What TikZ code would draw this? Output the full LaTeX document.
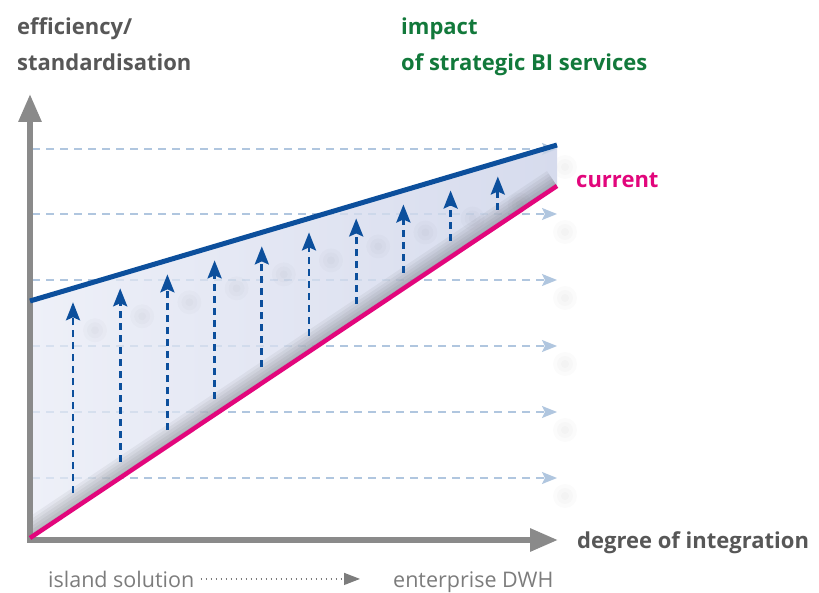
\documentclass[tikz,border=0pt]{standalone}
\usepackage{fontspec}
\setmainfont{Open Sans}
\usetikzlibrary{arrows.meta, positioning, calc}
\definecolor{axisgray}{HTML}{8A8A8A}
\definecolor{titlegray}{HTML}{575757}
\definecolor{impactgreen}{HTML}{12793B}
\definecolor{currentpink}{HTML}{E2067C}
\definecolor{levelblue}{HTML}{0C4F9C}
\definecolor{gridblue}{HTML}{B0C6DF}
\definecolor{fillblue}{HTML}{D6DBED}
\definecolor{fillpale}{HTML}{EEF0F8}
\definecolor{notegray}{HTML}{7C7C7C}
\tikzset{
  axis/.style={axisgray, line width=6pt, {Triangle[length=28pt,width=22pt]}-{Triangle[length=28pt,width=22pt]}},
  gridline/.style={gridblue, line width=1.5pt, dash pattern=on 8pt off 6pt, -{Stealth[length=15pt,width=12pt,inset=3pt]}},
  lift/.style={levelblue, line width=2.8pt, dash pattern=on 7pt off 5pt, -{Stealth[length=18pt,width=14pt,inset=3pt]}},
  blob/.style={black, opacity=0.014},
  title/.style={anchor=base west, inner sep=0pt, font=\bfseries\fontsize{22}{26}\selectfont},
  note/.style={anchor=base west, inner sep=0pt, font=\fontsize{21.5}{26}\selectfont, text=notegray}
}
\begin{document}
\begin{tikzpicture}[x=1pt,y=-1pt]
\useasboundingbox (0,0) rectangle (819,593);
\coordinate (ytip) at (30,94);
\coordinate (xtip) at (558,540);
\coordinate (b0) at (30,301);
\coordinate (b1) at (557,145);
\coordinate (p0) at (30,538);
\coordinate (p1) at (557,186);
\foreach \y in {149,214,280,346,412,478} {
  \coordinate (hl\y) at (32,\y);
  \coordinate (hr\y) at (557,\y);
  \foreach \r in {12,8,4} \fill[blob] ($(hr\y)+(8,18)$) circle (\r);
  \draw[gridline] (hl\y) -- (hr\y);
}
\shade[left color=fillpale, right color=fillblue] (b0) -- (b1) -- (p1) -- (p0) -- cycle;
\begin{scope}
\clip (b0) -- (b1) -- (p1) -- (p0) -- cycle;
\foreach \y in {149,214,280,346,412,478} \draw[gridline, opacity=0.35] (hl\y) -- (hr\y);
\foreach \w in {36,30,...,6} \draw[black, opacity=0.045, line width=\w] (p0) -- (p1);
\end{scope}
\foreach \i in {0,...,9} {
  \pgfmathsetmacro\xx{73+47.2*\i}
  \pgfmathsetmacro\ytop{301-(\xx-30)/527*156+14}
  \pgfmathsetmacro\ybot{538-(\xx-30)/527*352-16}
  \coordinate (lb\i) at (\xx,\ybot);
  \coordinate (lt\i) at (\xx,\ytop);
  \foreach \r in {12,8,4} \fill[blob] ($(lt\i)+(22,28)$) circle (\r);
  \draw[lift] (lb\i) -- (lt\i);
}
\draw[axis] (ytip) |- (xtip);
\draw[currentpink, line width=4.5pt] (p0) -- (p1);
\draw[levelblue, line width=5pt] (b0) -- (b1);
\node[title, text=titlegray] (effic) at (17,35) {efficiency/};
\node[title, text=titlegray] (stand) at (17,71) {standardisation};
\node[title, text=impactgreen] (impact) at (401,35) {impact};
\node[title, text=impactgreen] (strat) at (401,71) {of strategic BI services};
\node[title, text=currentpink] (curr) at (576,188) {current};
\node[title, text=titlegray] (degree) at (577,548) {degree of integration};
\node[note] (island) at (48,587) {island solution};
\node[note] (enter) at (393,587) {enterprise DWH};
\draw[notegray, line width=1.4pt, dash pattern=on 1.4pt off 3.6pt, -{Triangle[length=16pt,width=12pt]}, shorten >=33pt] ([xshift=6pt]island.east) -- (island.east -| enter.west);
\end{tikzpicture}
\end{document}
